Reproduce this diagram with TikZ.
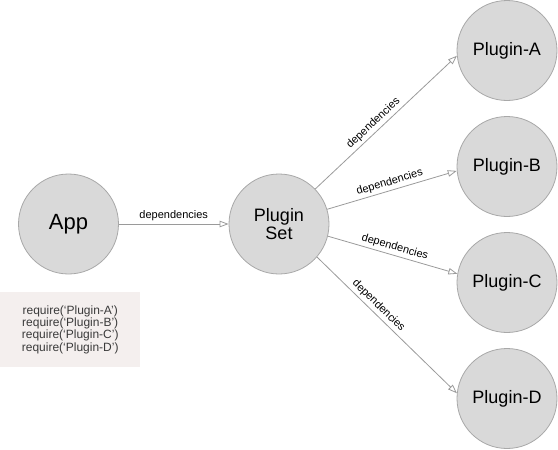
\documentclass[tikz,border=0pt]{standalone}
\usepackage{fontspec}
\setmainfont{Liberation Sans}
\usepackage{xcolor}
\usetikzlibrary{arrows.meta, positioning}

\definecolor{nodefill}{HTML}{D9D9D9}
\definecolor{nodeline}{HTML}{A8A8A8}
\definecolor{edgeline}{HTML}{9A9A9A}
\definecolor{notefill}{HTML}{F4EFEE}
\definecolor{notetext}{HTML}{3A3A3A}

\begin{document}
\begin{tikzpicture}[
    x=1pt, y=-1pt,
    plugin/.style={circle, draw=nodeline, fill=nodefill, line width=0.8pt, minimum size=100pt, inner sep=0pt, align=center, font=\fontsize{18}{16}\selectfont},
    arrow/.style={-{Triangle[open, length=9pt, width=6.5pt]}, draw=edgeline, line width=0.8pt},
    dep/.style={sloped, above, inner sep=2.5pt, font=\fontsize{11}{13}\selectfont}
]
\useasboundingbox (0,0) rectangle (558,450);

\node[plugin, font=\fontsize{22}{24}\selectfont] (app) at (68.5,224) {App};
\node[plugin] (pluginset) at (279,224) {Plugin\\Set};
\node[plugin] (plugina) at (507,50.5) {Plugin-A};
\node[plugin] (pluginb) at (507,166.5) {Plugin-B};
\node[plugin] (pluginc) at (507,282.5) {Plugin-C};
\node[plugin] (plugind) at (507,398.5) {Plugin-D};

% require list under the app
\node[fill=notefill, anchor=north west, minimum width=140pt, minimum height=75pt, inner sep=0pt, align=center, text=notetext, font=\fontsize{12}{12.3}\selectfont] (requires) at (0,292) {require(‘Plugin-A’)\\require(‘Plugin-B’)\\require(‘Plugin-C’)\\require(‘Plugin-D’)};

\draw[arrow] (app) -- node[dep] {dependencies} (pluginset);
\draw[arrow] (pluginset.44) -- node[dep, pos=0.45] {dependencies} (plugina.186);
\draw[arrow] (pluginset.17) -- node[dep] {dependencies} (pluginb.185);
\draw[arrow] (pluginset.-14) -- node[dep] {dependencies} (pluginc.170);
\draw[arrow] (pluginset.-41) -- node[dep, pos=0.4] {dependencies} (plugind.174);

\end{tikzpicture}
\end{document}
